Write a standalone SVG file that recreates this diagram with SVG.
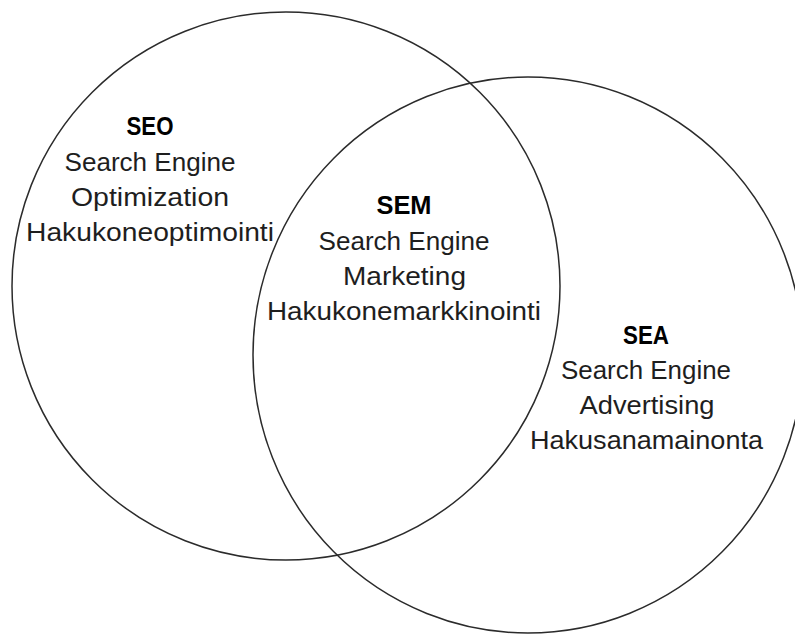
<svg xmlns="http://www.w3.org/2000/svg" width="795" height="635" viewBox="0 0 795 635">
<style>
.c{fill:none;stroke:#2b2b2b;stroke-width:1.5}
.t{font-family:"Liberation Sans",Arial,sans-serif;font-size:26px;fill:#1e1e1e;text-anchor:middle}
.b{font-weight:bold;fill:#000}
</style>
<rect width="795" height="635" fill="#fff"/>
<g id="seo">
<circle class="c" cx="286" cy="286" r="274"/>
<text class="t b" x="150" y="135" textLength="47" lengthAdjust="spacingAndGlyphs">SEO</text>
<text class="t" x="150" y="170.5" textLength="171" lengthAdjust="spacingAndGlyphs">Search Engine</text>
<text class="t" x="150" y="206" textLength="158" lengthAdjust="spacingAndGlyphs">Optimization</text>
<text class="t" x="150" y="241" textLength="248" lengthAdjust="spacingAndGlyphs">Hakukoneoptimointi</text>
</g>
<g id="sea">
<ellipse class="c" cx="528" cy="355" rx="275" ry="278"/>
<text class="t b" x="646" y="344" textLength="46" lengthAdjust="spacingAndGlyphs">SEA</text>
<text class="t" x="646" y="379" textLength="170" lengthAdjust="spacingAndGlyphs">Search Engine</text>
<text class="t" x="647" y="414" textLength="135" lengthAdjust="spacingAndGlyphs">Advertising</text>
<text class="t" x="646.5" y="449" textLength="233" lengthAdjust="spacingAndGlyphs">Hakusanamainonta</text>
</g>
<g id="sem">
<text class="t b" x="404" y="214" textLength="55" lengthAdjust="spacingAndGlyphs">SEM</text>
<text class="t" x="404" y="249.5" textLength="171" lengthAdjust="spacingAndGlyphs">Search Engine</text>
<text class="t" x="404.5" y="284.5" textLength="123" lengthAdjust="spacingAndGlyphs">Marketing</text>
<text class="t" x="404" y="320" textLength="274" lengthAdjust="spacingAndGlyphs">Hakukonemarkkinointi</text>
</g>
<g id="connectors"/>
</svg>
